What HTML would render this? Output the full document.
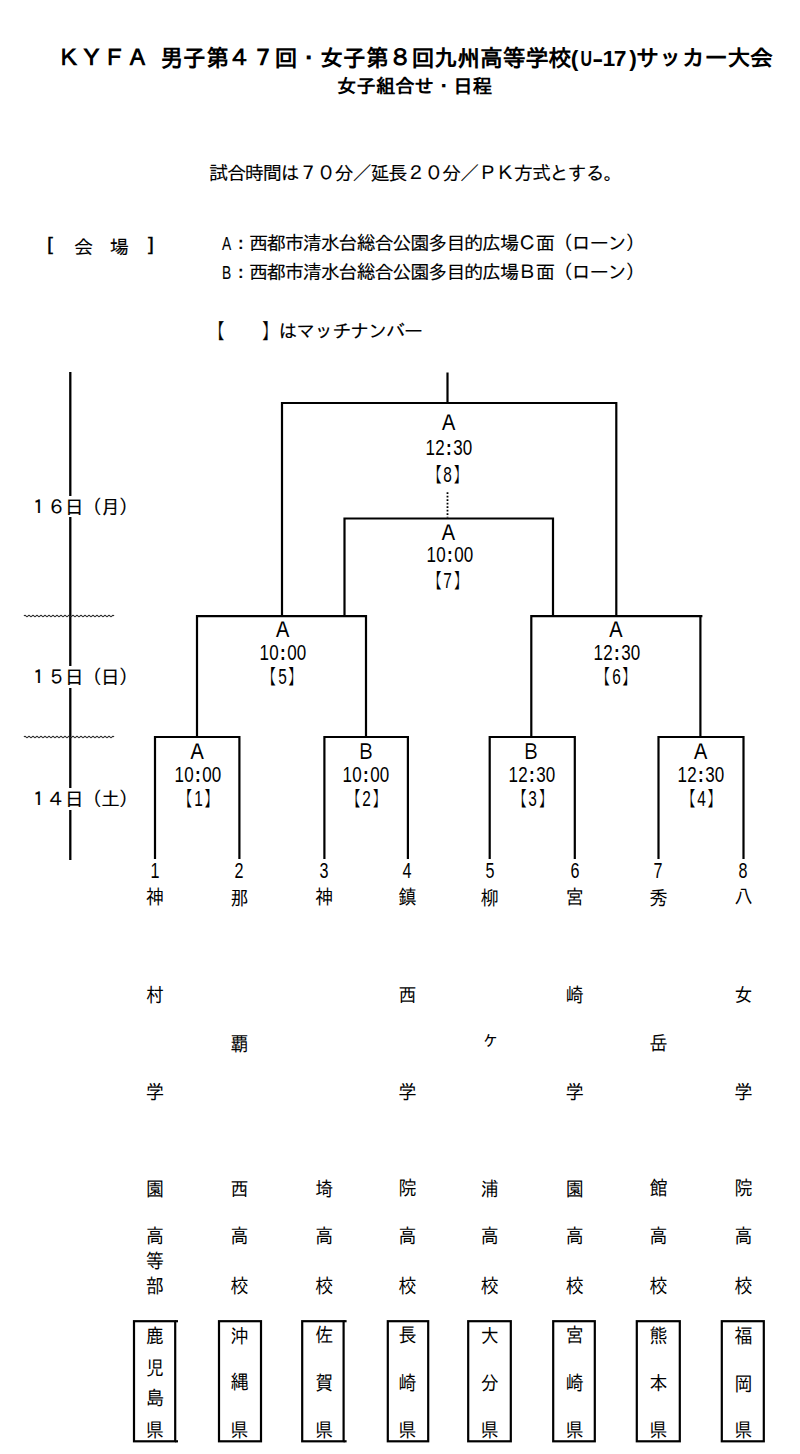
<!DOCTYPE html>
<html lang="ja">
<head>
<meta charset="utf-8">
<title>ＫＹＦＡ 九州高等学校(U-17)サッカー大会 女子組合せ・日程</title>
<style>
html,body{margin:0;padding:0;background:#fff;}
body{width:800px;height:1454px;position:relative;overflow:hidden;color:#000;
 font-family:"Liberation Sans","IPAGothic","Noto Sans CJK JP",sans-serif;}
.t{position:absolute;white-space:pre;line-height:1;margin:0;}
.c{position:absolute;white-space:pre;line-height:1;text-align:center;transform:translateX(-50%);}
.hw{display:inline-block;transform-origin:50% 50%;}
.sy{display:inline-block;transform:scaleY(1.09);transform-origin:50% 50%;}
.tm{display:inline-block;transform:scaleX(.755);transform-origin:50% 50%;letter-spacing:0.3px;}
.tm i{font-style:normal;display:inline-block;width:11px;text-align:center;font-weight:bold;}
.hn{display:inline-block;transform:scaleX(.74);transform-origin:50% 50%;font-size:110%;margin:0 -0.4px;}
svg{position:absolute;left:0;top:0;}
.k{position:absolute;width:40px;margin-left:-20px;text-align:center;line-height:1;font-size:18px;transform:scaleY(1.1);}
.v{position:absolute;writing-mode:vertical-rl;line-height:1;font-size:18px;width:18px;white-space:pre;transform:scaleY(1.1);transform-origin:50% 0;}
.kn{position:absolute;width:40px;margin-left:-20px;text-align:center;line-height:1;}
.dl{position:absolute;background:#fff;line-height:1;white-space:pre;padding:2.6px 0 0.2px;}
.b{font-size:19.2px;letter-spacing:-1.26px;-webkit-text-stroke:0.12px #000;}
.hb{display:inline-block;width:9px;letter-spacing:0;font-size:17.5px;-webkit-text-stroke:0.3px #000;transform:scaleX(1.22);transform-origin:0 50%;position:relative;top:-0.8px;}
#u17{margin:0 -1.2px 0 -2.6px;}
#u17 b{display:inline-flex;justify-content:center;width:11.42px;}
#u17 b i{display:block;flex:none;font-style:normal;}
.hv{display:inline-block;width:9px;letter-spacing:0;transform:scaleX(.72);transform-origin:0 50%;}
</style>
</head>
<body>

<svg width="800" height="1454" viewBox="0 0 800 1454">
<line x1="70.3" y1="372" x2="70.3" y2="860" stroke="#000" stroke-width="2.3" />
<line x1="447.5" y1="372.5" x2="447.5" y2="403" stroke="#000" stroke-width="2.2" />
<polyline fill="none" stroke="#000" stroke-width="2.2" stroke-linejoin="miter" points="282,616 282,403 616.3,403 616.3,616"/>
<polyline fill="none" stroke="#000" stroke-width="2.2" stroke-linejoin="miter" points="344.5,616 344.5,518.5 553,518.5 553,616"/>
<line x1="447.5" y1="492.2" x2="447.5" y2="517.6" stroke="#000" stroke-width="1.8" stroke-dasharray="1.75,1.75"/>
<polyline fill="none" stroke="#000" stroke-width="2.2" stroke-linejoin="miter" points="197,737 197,616.1 366,616.1 366,737"/>
<polyline fill="none" stroke="#000" stroke-width="2.2" stroke-linejoin="miter" points="531.3,737 531.3,616.1 702.4,616.1"/>
<line x1="700.4" y1="616.1" x2="700.4" y2="737" stroke="#000" stroke-width="2.2" />
<polyline fill="none" stroke="#000" stroke-width="2.2" stroke-linejoin="miter" points="155,859 155,737 239.4,737 239.4,859"/>
<polyline fill="none" stroke="#000" stroke-width="2.2" stroke-linejoin="miter" points="324.4,859 324.4,737 407.9,737 407.9,859"/>
<polyline fill="none" stroke="#000" stroke-width="2.2" stroke-linejoin="miter" points="489.7,859 489.7,737 574.8,737 574.8,859"/>
<polyline fill="none" stroke="#000" stroke-width="2.2" stroke-linejoin="miter" points="658.5,859 658.5,737 743.5,737 743.5,859"/>
<path d="M24,616 q1,-1.5 2,0 q1,1.5 2,0 q1,-1.5 2,0 q1,1.5 2,0 q1,-1.5 2,0 q1,1.5 2,0 q1,-1.5 2,0 q1,1.5 2,0 q1,-1.5 2,0 q1,1.5 2,0 q1,-1.5 2,0 q1,1.5 2,0 q1,-1.5 2,0 q1,1.5 2,0 q1,-1.5 2,0 q1,1.5 2,0 q1,-1.5 2,0 q1,1.5 2,0 q1,-1.5 2,0 q1,1.5 2,0 q1,-1.5 2,0 q1,1.5 2,0 q1,-1.5 2,0 q1,1.5 2,0 q1,-1.5 2,0 q1,1.5 2,0 q1,-1.5 2,0 q1,1.5 2,0 q1,-1.5 2,0 q1,1.5 2,0 q1,-1.5 2,0 q1,1.5 2,0 q1,-1.5 2,0 q1,1.5 2,0 q1,-1.5 2,0 q1,1.5 2,0 q1,-1.5 2,0 q1,1.5 2,0 q1,-1.5 2,0 q1,1.5 2,0 q1,-1.5 2,0 q1,1.5 2,0 q1,-1.5 2,0 q1,1.5 2,0 q1,-1.5 2,0" fill="none" stroke="#222" stroke-width="1.1"/>
<path d="M24,737 q1,-1.5 2,0 q1,1.5 2,0 q1,-1.5 2,0 q1,1.5 2,0 q1,-1.5 2,0 q1,1.5 2,0 q1,-1.5 2,0 q1,1.5 2,0 q1,-1.5 2,0 q1,1.5 2,0 q1,-1.5 2,0 q1,1.5 2,0 q1,-1.5 2,0 q1,1.5 2,0 q1,-1.5 2,0 q1,1.5 2,0 q1,-1.5 2,0 q1,1.5 2,0 q1,-1.5 2,0 q1,1.5 2,0 q1,-1.5 2,0 q1,1.5 2,0 q1,-1.5 2,0 q1,1.5 2,0 q1,-1.5 2,0 q1,1.5 2,0 q1,-1.5 2,0 q1,1.5 2,0 q1,-1.5 2,0 q1,1.5 2,0 q1,-1.5 2,0 q1,1.5 2,0 q1,-1.5 2,0 q1,1.5 2,0 q1,-1.5 2,0 q1,1.5 2,0 q1,-1.5 2,0 q1,1.5 2,0 q1,-1.5 2,0 q1,1.5 2,0 q1,-1.5 2,0 q1,1.5 2,0 q1,-1.5 2,0 q1,1.5 2,0 q1,-1.5 2,0" fill="none" stroke="#222" stroke-width="1.1"/>
<rect x="134" y="1321.2" width="41.2" height="120.1" fill="none" stroke="#000" stroke-width="2.2"/>
<line x1="175.2" y1="1321.2" x2="178" y2="1321.2" stroke="#000" stroke-width="2.2" />
<line x1="175.2" y1="1441.3" x2="178" y2="1441.3" stroke="#000" stroke-width="2.2" />
<rect x="219" y="1321.2" width="42.0" height="120.1" fill="none" stroke="#000" stroke-width="2.2"/>
<rect x="302.2" y="1321.2" width="41.4" height="120.1" fill="none" stroke="#000" stroke-width="2.2"/>
<line x1="343.6" y1="1321.2" x2="346.6" y2="1321.2" stroke="#000" stroke-width="2.2" />
<line x1="343.6" y1="1441.3" x2="346.6" y2="1441.3" stroke="#000" stroke-width="2.2" />
<rect x="387.8" y="1321.2" width="40.4" height="120.1" fill="none" stroke="#000" stroke-width="2.2"/>
<rect x="468.2" y="1321.2" width="42.6" height="120.1" fill="none" stroke="#000" stroke-width="2.2"/>
<rect x="553.2" y="1321.2" width="41.6" height="120.1" fill="none" stroke="#000" stroke-width="2.2"/>
<rect x="636.8" y="1321.2" width="43.0" height="120.1" fill="none" stroke="#000" stroke-width="2.2"/>
<rect x="721.8" y="1321.2" width="42.0" height="120.1" fill="none" stroke="#000" stroke-width="2.2"/>
</svg>

<div class="t" id="title" style="left:57.5px;top:47.4px;font-size:22.85px;font-weight:bold;">ＫＹＦＡ<span style="display:inline-block;width:11.4px;overflow:hidden;vertical-align:bottom"> </span>男子第４７回・女子第８回九州高等学校<span id="u17"><b>(</b><b><i style="transform:scaleX(.7)">U</i></b><b><i style="transform:scaleX(1.45)">-</i></b><b>1</b><b>7</b><b style="position:relative;left:1.5px">)</b></span>サッカー大会</div>
<div class="t" id="sub" style="left:337px;top:77px;font-size:19.4px;font-weight:bold;">女子組合せ・日程</div>
<div class="t b" id="rule" style="left:209px;top:163.7px;">試合時間は７０分／延長２０分／ＰＫ方式とする。</div>
<div class="t b" id="venue" style="left:47px;top:235px;"><span class="hb">[</span><span style="position:relative;top:2.7px">　会　場　</span><span class="hb" style="margin-left:2px">]</span></div>
<div class="t b" id="va" style="left:222px;top:234px;"><span class="hv">A</span>：西都市清水台総合公園多目的広場Ｃ面（ローン）</div>
<div class="t b" id="vb" style="left:222px;top:263px;"><span class="hv">B</span>：西都市清水台総合公園多目的広場Ｂ面（ローン）</div>
<div class="t b" id="mn" style="left:205.6px;top:321.5px;"><span class="sy" style="-webkit-text-stroke:0.3px #000">【</span><span style="display:inline-block;width:38.1px"></span><span class="sy" style="-webkit-text-stroke:0.3px #000">】</span><span style="margin-left:-1.2px">はマッチナンバー</span></div>
<div class="dl b" style="left:29px;top:495.5px;">１６日（月）</div>
<div class="dl b" style="left:29px;top:665.9px;">１５日（日）</div>
<div class="dl b" style="left:29px;top:787.7px;">１４日（土）</div>
<div class="c" style="left:448.75px;top:412.55px;font-size:20.3px;"><span class="sy">Ａ</span></div>
<div class="c" style="left:449.15px;top:436.54px;font-size:22.5px;"><span class="tm">12<i>:</i>30</span></div>
<div class="c" style="left:447.68px;top:464.25px;font-size:18.9px;"><span class="sy">【<span class="hn">8</span>】</span></div>
<div class="c" style="left:448.36px;top:522.90px;font-size:20.3px;"><span class="sy">Ａ</span></div>
<div class="c" style="left:449.64px;top:544.15px;font-size:22.5px;"><span class="tm">10<i>:</i>00</span></div>
<div class="c" style="left:447.80px;top:570.24px;font-size:18.9px;"><span class="sy">【<span class="hn">7</span>】</span></div>
<div class="c" style="left:282.70px;top:619.64px;font-size:20.3px;"><span class="sy">Ａ</span></div>
<div class="c" style="left:282.80px;top:642.30px;font-size:22.5px;"><span class="tm">10<i>:</i>00</span></div>
<div class="c" style="left:282.10px;top:666.40px;font-size:18.9px;"><span class="sy">【<span class="hn">5</span>】</span></div>
<div class="c" style="left:615.96px;top:619.64px;font-size:20.3px;"><span class="sy">Ａ</span></div>
<div class="c" style="left:616.80px;top:642.30px;font-size:22.5px;"><span class="tm">12<i>:</i>30</span></div>
<div class="c" style="left:616.10px;top:666.40px;font-size:18.9px;"><span class="sy">【<span class="hn">6</span>】</span></div>
<div class="c" style="left:197.04px;top:742.20px;font-size:20.3px;"><span class="sy">Ａ</span></div>
<div class="c" style="left:198.35px;top:764.04px;font-size:22.5px;"><span class="tm">10<i>:</i>00</span></div>
<div class="c" style="left:198.26px;top:788.40px;font-size:18.9px;"><span class="sy">【<span class="hn">1</span>】</span></div>
<div class="c" style="left:365.50px;top:741.80px;font-size:20.3px;"><span class="sy" style="transform:scale(.93,1.09)">Ｂ</span></div>
<div class="c" style="left:366.36px;top:764.04px;font-size:22.5px;"><span class="tm">10<i>:</i>00</span></div>
<div class="c" style="left:366.59px;top:788.25px;font-size:18.9px;"><span class="sy">【<span class="hn">2</span>】</span></div>
<div class="c" style="left:531.12px;top:741.80px;font-size:20.3px;"><span class="sy" style="transform:scale(.93,1.09)">Ｂ</span></div>
<div class="c" style="left:532.25px;top:764.04px;font-size:22.5px;"><span class="tm">12<i>:</i>30</span></div>
<div class="c" style="left:532.75px;top:788.25px;font-size:18.9px;"><span class="sy">【<span class="hn">3</span>】</span></div>
<div class="c" style="left:700.60px;top:742.20px;font-size:20.3px;"><span class="sy">Ａ</span></div>
<div class="c" style="left:701.25px;top:764.04px;font-size:22.5px;"><span class="tm">12<i>:</i>30</span></div>
<div class="c" style="left:701.44px;top:788.25px;font-size:18.9px;"><span class="sy">【<span class="hn">4</span>】</span></div>
<div class="kn" style="left:155px;top:859.7px;font-size:21.8px;"><span class="hn" style="font-size:100%">1</span></div>
<div class="v" style="left:145.1px;top:886.5px;letter-spacing:70.18px;">神村学園</div>
<div class="v" style="left:145.1px;top:1226.0px;letter-spacing:4.32px;">高等部</div>
<div class="v" style="left:145.1px;top:1325.0px;letter-spacing:10.52px;">鹿児島県</div>
<div class="kn" style="left:239.3px;top:859.7px;font-size:21.8px;"><span class="hn" style="font-size:100%">2</span></div>
<div class="v" style="left:229.4px;top:886.5px;letter-spacing:114.27px;">那覇西</div>
<div class="v" style="left:229.4px;top:1226.0px;letter-spacing:26.64px;">高校</div>
<div class="v" style="left:229.4px;top:1325.0px;letter-spacing:24.77px;">沖縄県</div>
<div class="kn" style="left:324.2px;top:859.7px;font-size:21.8px;"><span class="hn" style="font-size:100%">3</span></div>
<div class="v" style="left:314.3px;top:886.5px;letter-spacing:246.55px;">神埼</div>
<div class="v" style="left:314.3px;top:1226.0px;letter-spacing:26.64px;">高校</div>
<div class="v" style="left:314.3px;top:1325.0px;letter-spacing:24.77px;">佐賀県</div>
<div class="kn" style="left:407.3px;top:859.7px;font-size:21.8px;"><span class="hn" style="font-size:100%">4</span></div>
<div class="v" style="left:397.4px;top:886.5px;letter-spacing:70.18px;">鎮西学院</div>
<div class="v" style="left:397.4px;top:1226.0px;letter-spacing:26.64px;">高校</div>
<div class="v" style="left:397.4px;top:1325.0px;letter-spacing:24.77px;">長崎県</div>
<div class="kn" style="left:489.7px;top:859.7px;font-size:21.8px;"><span class="hn" style="font-size:100%">5</span></div>
<div class="v" style="left:479.8px;top:886.5px;letter-spacing:114.27px;">柳<span style="position:relative;top:-2.7px;left:-1px">ヶ</span>浦</div>
<div class="v" style="left:479.8px;top:1226.0px;letter-spacing:26.64px;">高校</div>
<div class="v" style="left:479.8px;top:1325.0px;letter-spacing:24.77px;">大分県</div>
<div class="kn" style="left:574.6px;top:859.7px;font-size:21.8px;"><span class="hn" style="font-size:100%">6</span></div>
<div class="v" style="left:564.7px;top:886.5px;letter-spacing:70.18px;">宮崎学園</div>
<div class="v" style="left:564.7px;top:1226.0px;letter-spacing:26.64px;">高校</div>
<div class="v" style="left:564.7px;top:1325.0px;letter-spacing:24.77px;">宮崎県</div>
<div class="kn" style="left:658.5px;top:859.7px;font-size:21.8px;"><span class="hn" style="font-size:100%">7</span></div>
<div class="v" style="left:648.6px;top:886.5px;letter-spacing:114.27px;">秀岳館</div>
<div class="v" style="left:648.6px;top:1226.0px;letter-spacing:26.64px;">高校</div>
<div class="v" style="left:648.6px;top:1325.0px;letter-spacing:24.77px;">熊本県</div>
<div class="kn" style="left:743.4px;top:859.7px;font-size:21.8px;"><span class="hn" style="font-size:100%">8</span></div>
<div class="v" style="left:733.5px;top:886.5px;letter-spacing:70.18px;">八女学院</div>
<div class="v" style="left:733.5px;top:1226.0px;letter-spacing:26.64px;">高校</div>
<div class="v" style="left:733.5px;top:1325.0px;letter-spacing:24.77px;">福岡県</div>
</body>
</html>
